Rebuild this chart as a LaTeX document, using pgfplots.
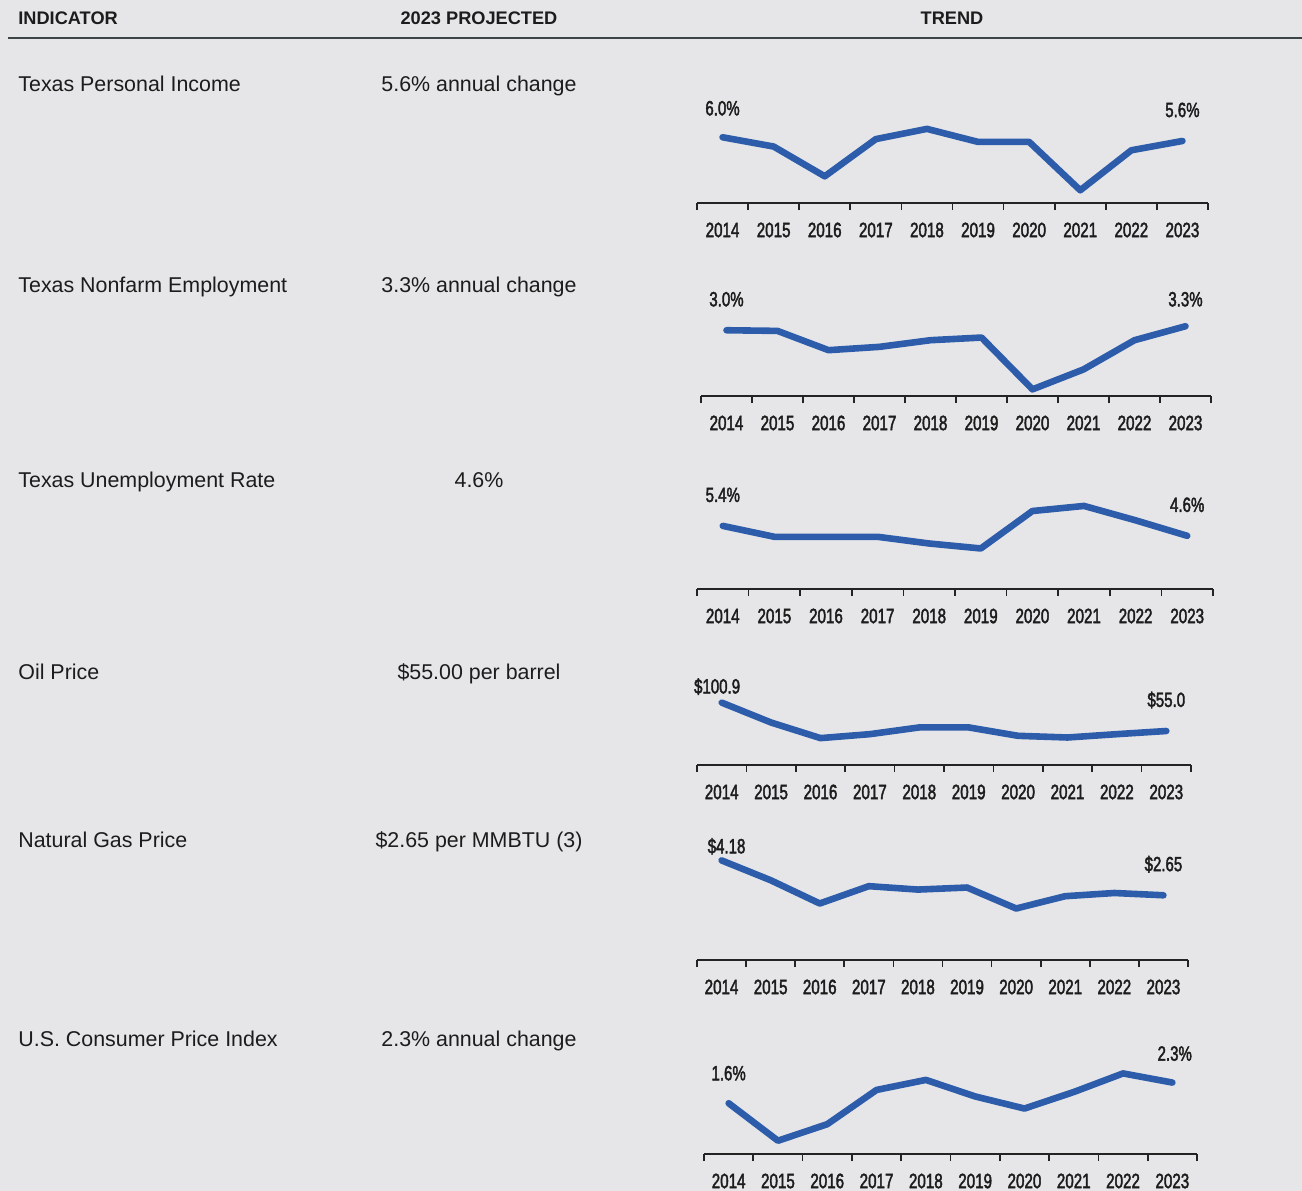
\documentclass[border=0pt]{standalone}
\usepackage{fontspec}
\setmainfont{Liberation Sans}
\newfontfamily\condfont[FakeStretch=0.73,FakeBold=2]{Liberation Sans}
\usepackage{pgfplots}
\pgfplotsset{compat=1.18}
\definecolor{bg}{RGB}{230,230,232}
\definecolor{txt}{RGB}{28,28,28}
\definecolor{axiscol}{RGB}{35,35,35}
\definecolor{rulecol}{RGB}{60,70,70}
\definecolor{lineblue}{RGB}{45,93,170}
\pgfplotsset{
  spark/.style={
    anchor=south west, scale only axis, height=46.5bp,
    xmin=-0.5, xmax=9.5, clip=false,
    axis x line*=bottom, axis y line=none, ytick=\empty,
    xtick={0,1,2,3,4,5,6,7,8,9},
    xticklabels={2014,2015,2016,2017,2018,2019,2020,2021,2022,2023},
    minor xtick={-0.5,0.5,1.5,2.5,3.5,4.5,5.5,6.5,7.5,8.5,9.5},
    major tick length=0pt, minor tick length=3.5bp, tick align=outside,
    x axis line style={-, line width=0.85bp, color=axiscol},
    every outer x axis line/.append style={-},
    minor tick style={line width=0.85bp, color=axiscol},
    major tick style={draw=none},
    xticklabel style={font=\condfont\fontsize{10.4bp}{12bp}\selectfont, anchor=center, yshift=-13.5bp, text=txt},
  },
  sparkline/.style={lineblue, line width=3.3bp, line join=round, line cap=round, mark=none},
}
\tikzset{vlab/.style={font=\condfont\fontsize{10.3bp}{12bp}\selectfont, text=txt, anchor=center}}
\begin{document}
\begin{tikzpicture}
\useasboundingbox (0,0) rectangle (651bp,-595.5bp);
\fill[bg] (0,0) rectangle (651bp,-595.5bp);
% header
\node[anchor=base west, font=\bfseries\fontsize{9.1bp}{11bp}\selectfont, text=txt, inner sep=0pt] at (9bp,-12.2bp) {INDICATOR};
\node[anchor=base, font=\bfseries\fontsize{9.1bp}{11bp}\selectfont, text=txt, inner sep=0pt] at (239.5bp,-12.2bp) {2023 PROJECTED};
\node[anchor=base, font=\bfseries\fontsize{9.1bp}{11bp}\selectfont, text=txt, inner sep=0pt] at (476bp,-12.2bp) {TREND};
\draw[rulecol, line width=1.2bp] (4bp,-19bp) -- (651bp,-19bp);
% rows text
\begin{scope}[every node/.style={font=\fontsize{10.7bp}{12bp}\selectfont, text=txt, inner sep=0pt}]
\node[anchor=base west] at (9bp,-45.75bp) {Texas Personal Income};
\node[anchor=base] at (239.5bp,-45.75bp) {5.6\% annual change};
\node[anchor=base west] at (9bp,-146.25bp) {Texas Nonfarm Employment};
\node[anchor=base] at (239.5bp,-146.25bp) {3.3\% annual change};
\node[anchor=base west] at (9bp,-243.75bp) {Texas Unemployment Rate};
\node[anchor=base] at (239.5bp,-243.75bp) {4.6\%};
\node[anchor=base west] at (9bp,-339.75bp) {Oil Price};
\node[anchor=base] at (239.5bp,-339.75bp) {\$55.00 per barrel};
\node[anchor=base west] at (9bp,-423.75bp) {Natural Gas Price};
\node[anchor=base] at (239.5bp,-423.75bp) {\$2.65 per MMBTU (3)};
\node[anchor=base west] at (9bp,-523.25bp) {U.S. Consumer Price Index};
\node[anchor=base] at (239.5bp,-523.25bp) {2.3\% annual change};
\end{scope}
% 1 Texas Personal Income
\begin{axis}[spark, at={(348.5bp,-101.5bp)}, width=255.5bp, ymin=-1.07, ymax=8.93]
\addplot[sparkline] coordinates {(0,6.0) (1,5.0) (2,1.8) (3,5.8) (4,6.9) (5,5.5) (6,5.5) (7,0.3) (8,4.6) (9,5.6)};
\node[vlab, yshift=14.5bp] at (axis cs:0,6.0) {6.0\%};
\node[vlab, yshift=15.5bp] at (axis cs:9,5.6) {5.6\%};
\end{axis}
% 2 Nonfarm employment
\begin{axis}[spark, at={(350.5bp,-198bp)}, width=255bp, ymin=-1.95, ymax=5.05]
\addplot[sparkline] coordinates {(0,3.0) (1,2.95) (2,1.5) (3,1.75) (4,2.25) (5,2.45) (6,-1.45) (7,0.05) (8,2.25) (9,3.3)};
\node[vlab, yshift=15.5bp] at (axis cs:0,3.0) {3.0\%};
\node[vlab, yshift=13.5bp] at (axis cs:9,3.3) {3.3\%};
\end{axis}
% 3 Unemployment
\begin{axis}[spark, at={(348.5bp,-294.5bp)}, width=258bp, ymin=0.31, ymax=7.81]
\addplot[sparkline] coordinates {(0,5.4) (1,4.52) (2,4.52) (3,4.52) (4,3.98) (5,3.58) (6,6.6) (7,7.01) (8,5.85) (9,4.6)};
\node[vlab, yshift=15.5bp] at (axis cs:0,5.4) {5.4\%};
\node[vlab, yshift=15.5bp] at (axis cs:9,4.6) {4.6\%};
\end{axis}
% 4 Oil price
\begin{axis}[spark, at={(348.5bp,-382.5bp)}, width=247bp, ymin=0, ymax=150.4]
\addplot[sparkline] coordinates {(0,100.9) (1,68.7) (2,43.5) (3,49.9) (4,60.8) (5,60.8) (6,47.2) (7,44.5) (8,49.9) (9,55.0)};
\node[vlab, yshift=8bp, xshift=-2.3bp] at (axis cs:0,100.9) {\$100.9};
\node[vlab, yshift=15.5bp] at (axis cs:9,55.0) {\$55.0};
\end{axis}
% 5 Natural gas
\begin{axis}[spark, at={(348.5bp,-480bp)}, width=245.5bp, ymin=-0.19, ymax=3.89]
\addplot[sparkline] coordinates {(0,4.18) (1,3.31) (2,2.29) (3,3.05) (4,2.90) (5,2.99) (6,2.07) (7,2.61) (8,2.75) (9,2.65)};
\node[vlab, yshift=7bp, xshift=2.5bp] at (axis cs:0,4.18) {\$4.18};
\node[vlab, yshift=15.5bp] at (axis cs:9,2.65) {\$2.65};
\end{axis}
% 6 CPI
\begin{axis}[spark, at={(352bp,-577bp)}, width=246.5bp, ymin=-0.12, ymax=3.03]
\addplot[sparkline] coordinates {(0,1.6) (1,0.33) (2,0.89) (3,2.05) (4,2.39) (5,1.83) (6,1.42) (7,1.98) (8,2.61) (9,2.3)};
\node[vlab, yshift=15bp] at (axis cs:0,1.6) {1.6\%};
\node[vlab, yshift=14.5bp, xshift=1.2bp] at (axis cs:9,2.3) {2.3\%};
\end{axis}
\end{tikzpicture}
\end{document}
